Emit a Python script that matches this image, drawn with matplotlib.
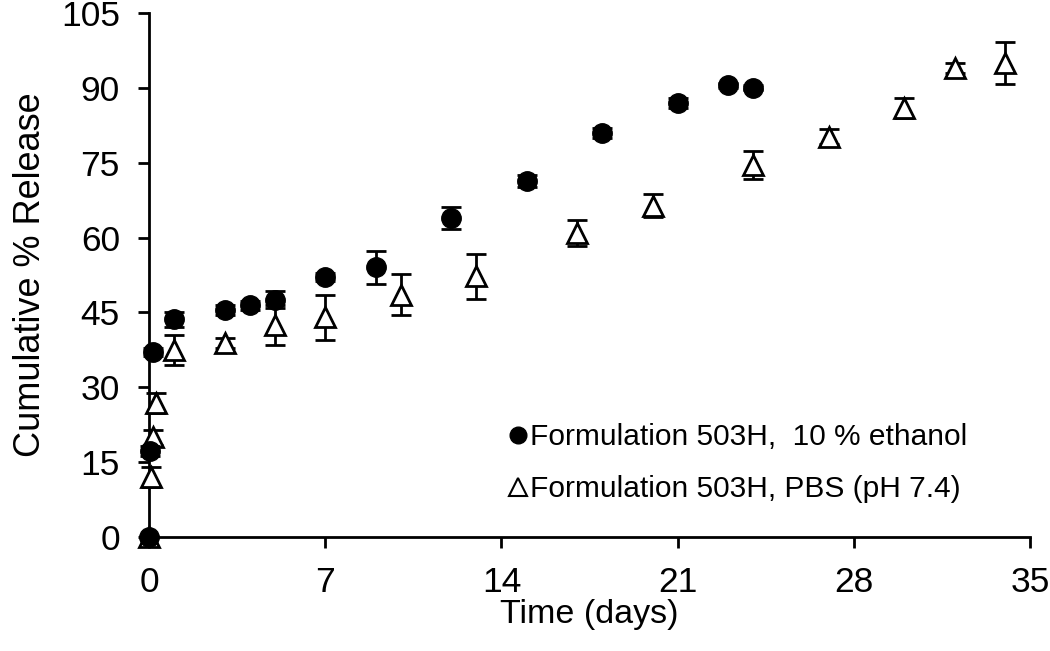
import matplotlib
matplotlib.use('Agg')
import matplotlib.pyplot as plt
from matplotlib.lines import Line2D

plt.rcParams['font.family'] = ['Liberation Sans', 'DejaVu Sans']

# Formulation 503H, 10 % ethanol (filled circles)
t_eth = [0, 0.05, 0.15, 1, 3, 4, 5, 7, 9, 12, 15, 18, 21, 23, 24]
rel_eth = [0, 17.3, 37.1, 43.6, 45.4, 46.4, 47.6, 52.2, 54.1, 63.9, 71.3, 81.0, 87.0, 90.5, 90.0]
err_eth = [0, 1.0, 0.8, 1.5, 1.0, 1.0, 1.8, 0.8, 3.3, 2.2, 1.2, 1.0, 1.0, 0.5, 0.5]

# Formulation 503H, PBS (pH 7.4) (open triangles)
t_pbs = [0, 0.08, 0.15, 0.28, 1, 3, 5, 7, 10, 13, 17, 20, 24, 27, 30, 32, 34]
rel_pbs = [0, 12.0, 20.0, 26.8, 37.5, 38.9, 42.5, 44.0, 48.6, 52.3, 61.0, 66.4, 74.5, 80.2, 86.0, 94.0, 95.0]
err_pbs = [0, 2.0, 1.5, 2.0, 3.0, 1.0, 4.0, 4.5, 4.1, 4.5, 2.6, 2.3, 2.8, 1.5, 2.0, 1.0, 4.2]

x_ticks = [0, 7, 14, 21, 28, 35]
y_ticks = [0, 15, 30, 45, 60, 75, 90, 105]

lab_eth = 'Formulation 503H,  10 % ethanol'
lab_pbs = 'Formulation 503H, PBS (pH 7.4)'

fig = plt.figure(figsize=(10.5, 6.51), dpi=100)
ax = fig.add_axes([0.142, 0.175, 0.839, 0.805])

ax.errorbar(t_pbs, rel_pbs, yerr=err_pbs, fmt='^', ms=14, mfc='white', mec='black',
            mew=2, ecolor='black', elinewidth=2, capsize=7.5, capthick=2,
            color='black', clip_on=False, zorder=3)
ax.errorbar(t_eth, rel_eth, yerr=err_eth, fmt='o', ms=14, mfc='black', mec='black',
            ecolor='black', elinewidth=2, capsize=7.5, capthick=2,
            color='black', clip_on=False, zorder=4)

ax.set_xlim(0, 35)
ax.set_ylim(0, 105)
ax.set_xticks(x_ticks)
ax.set_yticks(y_ticks)
ax.tick_params(direction='out', length=8, width=2, labelsize=25.5, pad=13)
for side in ['top', 'right']:
    ax.spines[side].set_visible(False)
for side in ['left', 'bottom']:
    ax.spines[side].set_linewidth(2)

ax.set_xlabel('Time (days)', fontsize=24.5, labelpad=0)
ax.set_ylabel('Cumulative % Release', fontsize=26, labelpad=9)

handles = [
    Line2D([], [], ls='none', marker='o', ms=12, mfc='black', mec='black'),
    Line2D([], [], ls='none', marker='^', ms=13, mfc='white', mec='black', mew=1.5),
]
ax.legend(handles, [lab_eth, lab_pbs], loc='upper left', bbox_to_anchor=(0.395, 0.24),
          frameon=False, fontsize=21.5, handlelength=0.6, handletextpad=0.1,
          labelspacing=0.8, borderaxespad=0)

fig.savefig('out.png', dpi=100)
